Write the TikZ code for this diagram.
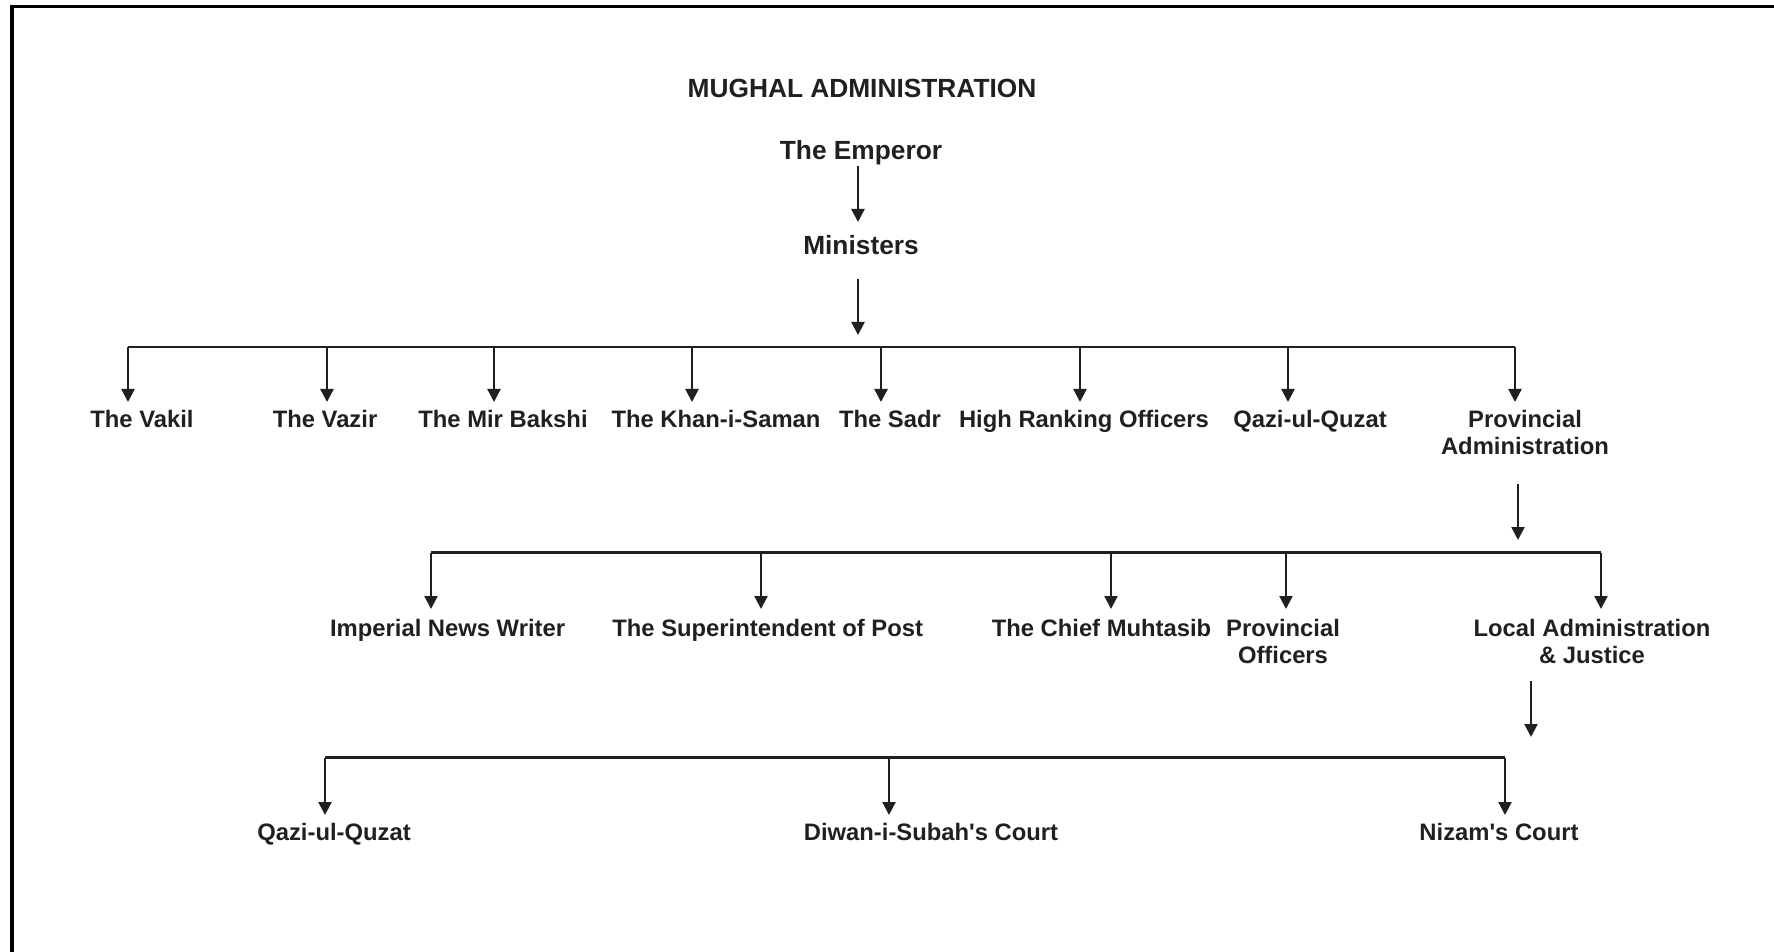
\documentclass[tikz,border=0pt]{standalone}
\usepackage{fontspec}
\setmainfont{Liberation Sans}
\usetikzlibrary{arrows.meta}
\definecolor{ink}{HTML}{231F20}
\begin{document}
\begin{tikzpicture}[x=0.5pt,y=-0.5pt,
  lbl/.style={anchor=base,inner sep=0pt,text=ink,align=center,
    font=\bfseries\fontsize{11.9}{13.5}\selectfont},
  big/.style={anchor=base,inner sep=0pt,text=ink,
    font=\bfseries\fontsize{13.15}{15}\selectfont},
  conn/.style={draw=ink,line width=1.15pt},
  arr/.style={conn,-{Triangle[length=6.5pt,width=6.5pt]}}]
\useasboundingbox (0,0) rectangle (1774,952);
% frame (left and top edges)
\draw[line width=2pt] (12,952) -- (12,5);
\draw[line width=1.5pt] (10,6.5) -- (1774,6.5);

% top
\node[big] (title) at (862,98) {MUGHAL ADMINISTRATION};
\node[big] (emp) at (861,160) {The Emperor};
\node[big] (min) at (861,255) {Ministers};
\coordinate (emp-out) at (858,166);
\coordinate (min-in) at (858,222);
\coordinate (min-out) at (858,279);
\coordinate (min-tip) at (858,335);
\draw[arr] (emp-out) -- (min-in);
\draw[arr] (min-out) -- (min-tip);

% level 1 (two-line nodes: base = baseline of last line)
\coordinate (bus1l) at (128,347);
\coordinate (bus1r) at (1515,347);
\draw[conn] (bus1l) -- (bus1r);
\node[lbl] (vakil) at (142,428) {The Vakil};
\node[lbl] (vazir) at (325,428) {The Vazir};
\node[lbl] (mirb)  at (503,428) {The Mir Bakshi};
\node[lbl] (khan)  at (716,428) {The Khan-i-Saman};
\node[lbl] (sadr)  at (890,428) {The Sadr};
\node[lbl] (high)  at (1084,428) {High Ranking Officers};
\node[lbl] (qazi)  at (1310,428) {Qazi-ul-Quzat};
\node[lbl] (prov)  at (1525,455) {Provincial\\Administration};
\foreach \n/\x in {vakil/128,vazir/327,mirb/494,khan/692,sadr/881,high/1080,qazi/1288,prov/1515}{
  \coordinate (\n-in) at (\x,402);
  \draw[arr] (\n-in |- bus1l) -- (\n-in);
}
\coordinate (prov-out) at (1518,484);
\coordinate (prov-tip) at (1518,540);
\draw[arr] (prov-out) -- (prov-tip);

% level 2
\coordinate (bus2l) at (431,552.5);
\coordinate (bus2r) at (1601,552.5);
\draw[conn] (bus2l) -- (bus2r);
\node[lbl] (imp)   at (447.6,636) {Imperial News Writer};
\node[lbl] (sup)   at (767.7,636) {The Superintendent of Post};
\node[lbl] (chief) at (1101.5,636) {The Chief Muhtasib};
\node[lbl] (provo) at (1283,663) {Provincial\\Officers};
\node[lbl] (local) at (1592,663) {Local Administration\\\& Justice};
\foreach \n/\x in {imp/431,sup/761,chief/1111,provo/1286,local/1601}{
  \coordinate (\n-in) at (\x,609);
  \draw[arr] (\n-in |- bus2l) -- (\n-in);
}
\coordinate (local-out) at (1531,681);
\coordinate (local-tip) at (1531,737);
\draw[arr] (local-out) -- (local-tip);

% level 3
\coordinate (bus3l) at (325,757.5);
\coordinate (bus3r) at (1505,757.5);
\draw[conn] (bus3l) -- (bus3r);
\node[lbl] (qazi2) at (334,840) {Qazi-ul-Quzat};
\node[lbl] (diwan) at (931,840) {Diwan-i-Subah\textquotesingle s Court};
\node[lbl] (nizam) at (1499,840) {Nizam\textquotesingle s Court};
\foreach \n/\x in {qazi2/325,diwan/889,nizam/1505}{
  \coordinate (\n-in) at (\x,815);
  \draw[arr] (\n-in |- bus3l) -- (\n-in);
}
\end{tikzpicture}
\end{document}
